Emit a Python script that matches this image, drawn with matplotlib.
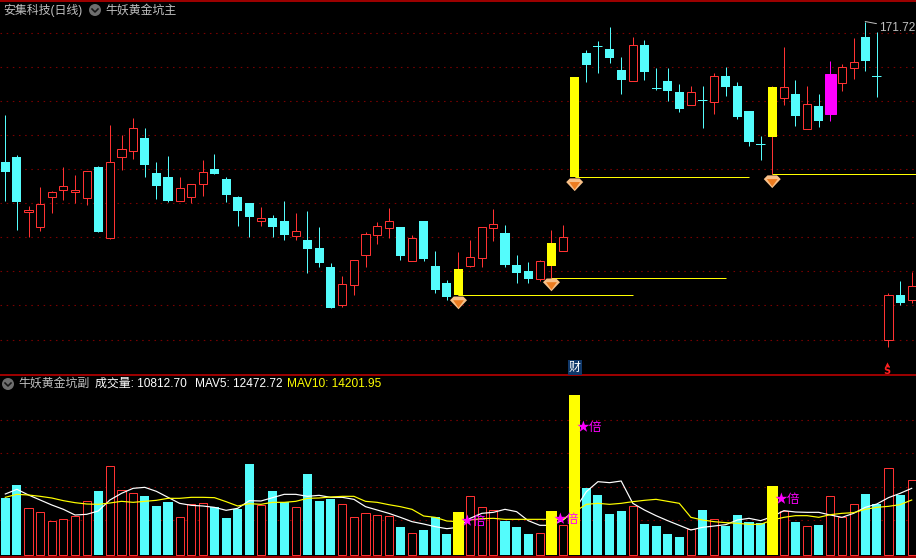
import matplotlib
matplotlib.use("Agg")
import matplotlib.pyplot as plt
from matplotlib.lines import Line2D
from matplotlib.path import Path
from matplotlib.patches import Circle

plt.rcParams['font.family'] = ['Liberation Sans', 'Noto Sans CJK SC', 'DejaVu Sans']

# candles: price, index is the trading day
high = [149.25, 139.25, 126.5, 131.25, 130.25, 136.25, 134.25, 135.25, 136.5, 146.75,
        144.25, 148.5, 146, 137.5, 139, 133.75, 132, 138, 139.5, 133.75,
        129, 127.25, 126.25, 124.25, 127.75, 124.75, 125.25, 121.25, 112.25, 109,
        113, 120, 122.5, 126, 121.25, 119.25, 122.75, 115.25, 108, 115,
        118, 121.25, 125.75, 121.75, 114.25, 112.5, 113, 120.5, 121.75, 158.75,
        165.5, 167.75, 171.25, 163.75, 168.75, 168, 161, 161, 157, 156.5,
        156.5, 159.75, 161.25, 157.5, 150.25, 144, 156.5, 166.25, 158, 156.5,
        154.5, 162.75, 162, 168.5, 172.5, 170, 104.75, 107.75, 110]
low = [127.75, 120.5, 118.75, 120.25, 124.75, 128, 127.25, 126.75, 120, 118.25,
       135.5, 138.25, 133.75, 128.25, 127.5, 127.75, 127.25, 129, 134.5, 127.5,
       121.5, 118.75, 121.5, 118.75, 118, 118, 109.75, 111.25, 101, 101.25,
       104.25, 111.25, 117, 118.5, 113, 112.75, 112.75, 104.75, 103, 104.25,
       111.25, 111.25, 117.75, 111.25, 107.25, 107.25, 107.75, 108.5, 115.25, 133.75,
       157.5, 159.75, 162.25, 154.5, 157.75, 158, 155.5, 152.75, 150, 151.75,
       146, 149.5, 154, 148.25, 141.5, 138, 134.5, 151.75, 146.5, 145.75,
       146.25, 147.75, 155.25, 158.25, 160.25, 153.75, 91.25, 101.75, 102.25]
open_p = [137.5, 138.75, 125, 121.25, 128.75, 130.5, 130, 128.5, 136.25, 118.5,
          138.75, 140.25, 143.5, 134.75, 133.75, 127.75, 128.75, 132, 135.75, 133.25,
          128.75, 127.25, 122.75, 123.5, 122.75, 119, 118, 116, 111.25, 101.75,
          106.75, 114.25, 119.25, 121, 121.25, 112.75, 122.75, 111.5, 107.25, 104.25,
          111.5, 113.5, 121, 119.75, 111.75, 110.25, 108.25, 111.5, 115.25, 133.75,
          164.75, 166.5, 165.75, 160.5, 157.75, 166.75, 156, 157.75, 155, 151.75,
          153, 152.5, 159, 156.5, 150.25, 142, 143.75, 153.5, 154.5, 145.75,
          151.5, 149.5, 157.25, 161, 168.75, 159, 93, 104.25, 103]
close_p = [135, 127.5, 125.5, 127, 130, 131.5, 130.5, 135.25, 120, 137.5,
           140.75, 146, 136.75, 131.5, 127.75, 131, 132, 135, 134.5, 129.25,
           125.25, 123.75, 123.5, 121.25, 119.25, 120.25, 115.75, 112.25, 101, 107,
           113, 119.5, 121.5, 122.75, 114, 118.5, 113.25, 105.5, 103.75, 110.75,
           113.75, 121.25, 122, 111.75, 109.75, 108.25, 112.75, 117.25, 118.75, 158.75,
           161.75, 166.25, 163.5, 158, 166.75, 160, 155.75, 155.25, 150.75, 155,
           152.75, 159, 156.25, 148.75, 142.5, 141.75, 156.25, 156.25, 149, 152,
           147.75, 159.5, 161.25, 162.5, 162.75, 158.75, 104.25, 102.25, 106.5]

# volume and its moving averages
volume = [8550, 10500, 7000, 6400, 5050, 5350, 5800, 8050, 9600, 13300,
          9700, 9250, 8850, 7350, 7950, 5650, 7600, 7750, 7150, 5550,
          6900, 13650, 7450, 9600, 7900, 7150, 12150, 8100, 8400, 7600,
          5650, 6250, 5950, 5800, 4200, 3250, 3750, 5650, 3150, 6450,
          8800, 7150, 6700, 5100, 4200, 3150, 3250, 6600, 4450, 24000,
          10050, 9000, 6150, 6600, 7300, 4650, 4350, 3150, 2700, 3850,
          6750, 5350, 4350, 6000, 4950, 4800, 10350, 6600, 4950, 4300,
          4500, 8800, 5750, 7600, 9150, 7650, 13000, 9000, 11200]
mav5 = [9150, 9850, 9000, 8250, 7500, 6850, 6000, 6100, 6600, 8250,
        9250, 10000, 10150, 9550, 8650, 7750, 7450, 7350, 7150, 6700,
        7000, 8150, 8100, 8600, 9100, 9100, 8800, 8950, 8650, 8650,
        8350, 7250, 6750, 6250, 5650, 5000, 4650, 4250, 3950, 4150,
        5500, 6250, 6400, 6850, 6500, 5150, 4450, 4450, 5250, 6750,
        9500, 11000, 10850, 11100, 7750, 6750, 5900, 5150, 4450, 3750,
        4150, 4350, 4550, 5250, 5500, 5150, 5750, 6650, 6450, 6400,
        6400, 6000, 5650, 6250, 7150, 7650, 8600, 9250, 10000]
mav10 = [8650, 9100, 9000, 8800, 8550, 8150, 7850, 7650, 7600, 7800,
         8050, 7900, 8050, 8200, 8500, 8500, 8650, 8650, 8600, 8000,
         7350, 7700, 7600, 7900, 7900, 8050, 8500, 8550, 8700, 8800,
         8800, 8050, 7900, 7550, 7250, 6850, 5850, 5650, 5100, 5000,
         5250, 5450, 5500, 5350, 5350, 5350, 5350, 5350, 5350, 6500,
         7600, 7750, 7600, 7750, 8000, 8200, 8350, 8050, 7750, 5650,
         5250, 5000, 4850, 4750, 4600, 4600, 5250, 5650, 5900, 5900,
         5650, 6050, 6250, 6350, 6850, 7150, 7300, 7550, 8250]

# the days the indicator picked
signal_days = [39, 47, 49, 66]
gem_price = [102.25, 106.75, 131.75, 132.5]
star_volume = [5000, 5250, 19150, 8250]
magenta_day = 71

price_grid = [169.67, 161.17, 152.67, 144.17, 135.67, 127.17, 118.67, 110.17, 101.67, 92.92]
volume_grid = [20200, 15250, 10150, 5200]

BG = '#000000'
RED = '#ff3232'
CYAN = '#54fcfc'
YELLOW = '#ffff00'
MAGENTA = '#ff00ff'
GRID = '#7a0000'
BORDER = '#a00000'
GREY = '#c0c0c0'
PX = 0.72  # one pixel in points at dpi 100

fig = plt.figure(figsize=(9.16, 5.58), dpi=100, facecolor=BG)
ax1 = fig.add_axes([0, 183 / 558, 1, 374.5 / 558], facecolor=BG)
ax2 = fig.add_axes([0, 1 / 558, 1, 181 / 558], facecolor=BG, sharex=ax1)

days = list(range(len(high)))
up = [c >= o for o, c in zip(open_p, close_p)]

for ax in (ax1, ax2):
    ax.set_xlim(-0.456, 78.37)
    ax.tick_params(left=False, bottom=False, labelleft=False, labelbottom=False)
    for side in ('left', 'right'):
        ax.spines[side].set_visible(False)
    ax.spines['top'].set_color(BORDER)
    ax.spines['bottom'].set_color(BORDER)
    ax.spines['top'].set_linewidth(1.4)
    ax.spines['bottom'].set_linewidth(1.4)
    ax.set_axisbelow(True)
    ax.grid(axis='y', color=GRID, linestyle=(0, (1.4, 4.2)), linewidth=PX * 1.1)
ax1.set_ylim(84.25, 177.75)
ax2.set_ylim(-300, 26850)
ax1.set_yticks(price_grid)
ax2.set_yticks(volume_grid)
ax2.spines['top'].set_visible(False)

# candles
for i in days:
    top = max(open_p[i], close_p[i])
    bottom = min(open_p[i], close_p[i])
    width = 0.78
    if i in signal_days:
        wick, face, edge = RED, YELLOW, YELLOW
    elif i == magenta_day:
        wick, face, edge = MAGENTA, MAGENTA, MAGENTA
        width = 0.95
    elif up[i]:
        wick, face, edge = RED, BG, RED
        width = 0.7
    else:
        wick, face, edge = CYAN, CYAN, CYAN
    ax1.vlines(i, low[i], high[i], color=wick, linewidth=PX, zorder=2, snap=True)
    ax1.bar(i, top - bottom, width=width, bottom=bottom, color=face, edgecolor=edge,
            linewidth=PX if up[i] and i not in signal_days else 0, zorder=3)
    if top - bottom < 1 and not up[i]:
        ax1.hlines(top, i - 0.39, i + 0.39, color=wick, linewidth=PX, zorder=3, snap=True)

# signal levels run 15 days to the right
for i in signal_days:
    ax1.hlines(low[i], i, i + 15, color=YELLOW, linewidth=PX, zorder=4, snap=True)

gem_outer = Path([(-8, 2.5), (-4.5, 6), (4.5, 6), (8, 2.5), (0, -6), (-8, 2.5)], closed=True)
gem_inner = Path([(-5, 2.5), (5, 2.5), (0, -4.5), (-5, 2.5)], closed=True)
ax1.scatter(signal_days, gem_price, marker=gem_outer, s=150, facecolor='#f8c088',
            edgecolor='none', zorder=5)
ax1.scatter(signal_days, gem_price, marker=gem_inner, s=60, facecolor='#ec7c20',
            edgecolor='none', zorder=6)

# volume
for i in days:
    if i in signal_days:
        ax2.bar(i, volume[i], width=0.95, color=YELLOW, zorder=5)
    elif up[i]:
        ax2.bar(i, volume[i], width=0.7, color=BG, edgecolor=RED, linewidth=PX, zorder=3)
    else:
        ax2.bar(i, volume[i], width=0.78, color=CYAN, zorder=3)
ax2.plot(days, mav5, color='white', linewidth=PX * 1.2, zorder=4)
ax2.plot(days, mav10, color=YELLOW, linewidth=PX * 1.2, zorder=4)

for i, v in zip(signal_days, star_volume):
    ax2.annotate('★倍', (i, v), xytext=(2, 0), textcoords='offset pixels', color=MAGENTA,
                 fontsize=9.2, ha='left', va='center', family=['Noto Sans CJK SC', 'DejaVu Sans'],
                 zorder=7)

# high label with its little flag
ax1.annotate('171.72', (74, high[74]), xytext=(14, -6), textcoords='offset pixels', color=GREY,
             fontsize=8.6, ha='left', va='center', zorder=7,
             arrowprops=dict(arrowstyle='-', color=GREY, linewidth=PX, shrinkA=0, shrinkB=0))

# markers at the bottom of the price pane
ax1.text(49, 86.1, '财', color='white', fontsize=8.6, ha='center', va='center', zorder=7,
         family='Noto Sans CJK SC', bbox=dict(facecolor='#10386a', edgecolor='none', pad=0.8))
ax1.text(75.88, 85.2, 'S', color='#ff2020', fontsize=7, fontweight='bold', ha='center', va='center',
         zorder=7, family='DejaVu Sans')
ax1.scatter([75.88], [86.9], marker='^', s=9, color='#ff2020', linewidths=0, zorder=7)


def icon(x_px, y_px):
    y_fig = 558 - y_px
    fig.add_artist(Circle((x_px, y_fig), 6, transform=None, facecolor='#6e6e6e', edgecolor='none'))
    fig.add_artist(Line2D([x_px - 3, x_px, x_px + 3], [y_fig + 1, y_fig - 2, y_fig + 1], transform=None,
                          color='#151515', linewidth=PX * 1.6))


icon(95, 10)
icon(8, 384)


def label(x_px, y_px, s, color=GREY):
    fig.text(x_px / 916, 1 - y_px / 558, s, color=color, fontsize=8.6, ha='left', va='center')


label(3, 10.5, '安集科技(日线)')
label(105, 10.5, '牛妖黄金坑主')
label(18, 384, '牛妖黄金坑副')
label(95, 384, '成交量: 10812.70', 'white')
label(195, 384, 'MAV5: 12472.72', 'white')
label(287, 384, 'MAV10: 14201.95', YELLOW)

fig.savefig('out.png', dpi=100, facecolor=BG)
